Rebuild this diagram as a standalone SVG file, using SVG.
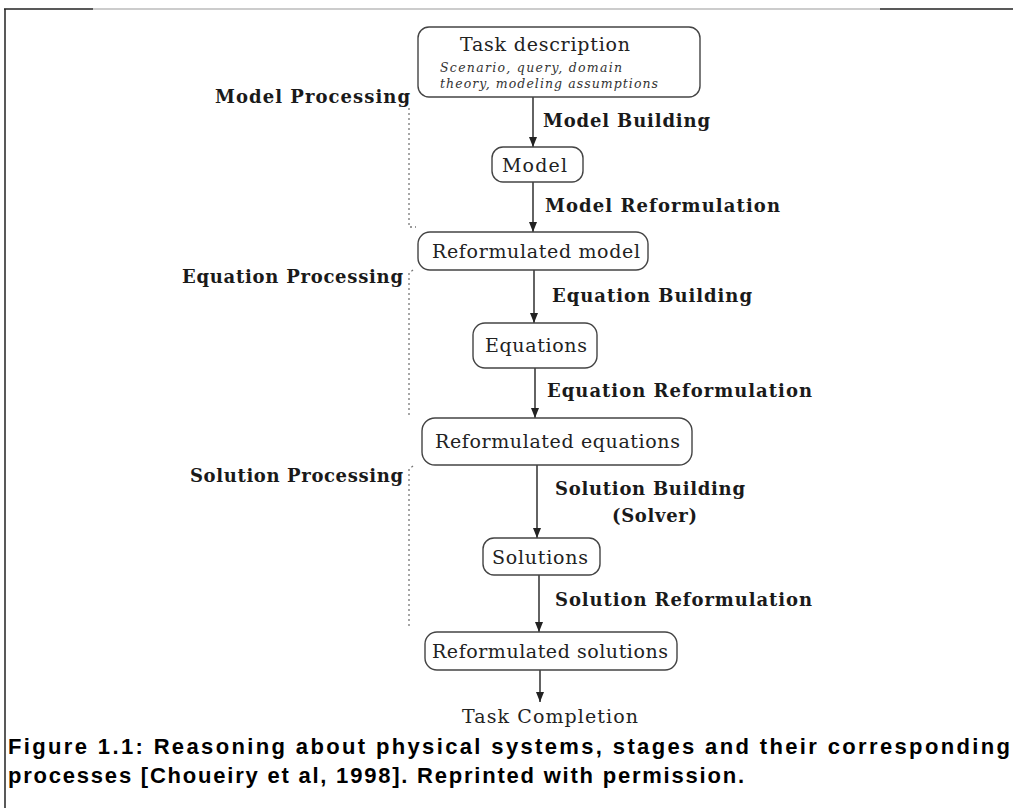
<svg xmlns="http://www.w3.org/2000/svg" width="1013" height="808" viewBox="0 0 1013 808">
<style>
.node rect{fill:#fff;stroke:#444;stroke-width:1.4}
.nt{font-family:"DejaVu Serif","Liberation Serif",serif;font-size:19px;fill:#222}
.it{font-family:"DejaVu Serif","Liberation Serif",serif;font-size:12.5px;font-style:italic;fill:#333}
.lb{font-family:"DejaVu Serif","Liberation Serif",serif;font-size:18px;font-weight:bold;fill:#1a1a1a}
.edge{stroke:#222;stroke-width:1.4;fill:none;marker-end:url(#ah)}
.dot{stroke:#777;stroke-width:1.3;fill:none;stroke-dasharray:2 3}
.cap{font-family:"Liberation Sans",Arial,sans-serif;font-size:22px;font-weight:bold;fill:#000}
</style>
<defs>
<marker id="ah" markerWidth="10" markerHeight="8" refX="10" refY="4" orient="auto" markerUnits="userSpaceOnUse" viewBox="0 0 10 8">
<path d="M0,0 L10,4 L0,8 Z" fill="#222"/>
</marker>
</defs>
<rect width="1013" height="808" fill="#fff"/>
<g id="frame">
<line x1="4" y1="9" x2="93" y2="9" stroke="#222" stroke-width="1.5"/>
<line x1="93" y1="9" x2="880" y2="9" stroke="#999" stroke-width="1"/>
<line x1="880" y1="9" x2="1013" y2="9" stroke="#222" stroke-width="1.5"/>
<line x1="5" y1="9" x2="5" y2="808" stroke="#222" stroke-width="1.5"/>
</g>
<g id="connectors">
<line class="edge" x1="533" y1="97" x2="533" y2="147"/>
<line class="edge" x1="533" y1="182" x2="533" y2="232"/>
<line class="edge" x1="534" y1="270" x2="534" y2="323"/>
<line class="edge" x1="535" y1="368" x2="535" y2="418"/>
<line class="edge" x1="537" y1="465" x2="537" y2="538"/>
<line class="edge" x1="539" y1="575" x2="539" y2="632"/>
<line class="edge" x1="540" y1="670" x2="540" y2="702"/>
</g>
<g id="brackets">
<path class="dot" d="M409,108 L409,227 L416,227"/>
<path class="dot" d="M413,270 L409,273 L409,418"/>
<path class="dot" d="M413,466 L409,469 L409,628"/>
</g>
<g id="task" class="node">
<rect x="418" y="27" width="282" height="70" rx="11"/>
<text class="nt" x="460" y="51" textLength="170">Task description</text>
<text class="it" x="440" y="72" textLength="182">Scenario, query, domain</text>
<text class="it" x="440" y="88" textLength="218">theory, modeling assumptions</text>
</g>
<g id="model" class="node">
<rect x="492" y="147" width="91" height="35" rx="11"/>
<text class="nt" x="502" y="172" textLength="65">Model</text>
</g>
<g id="refmodel" class="node">
<rect x="418" y="232" width="230" height="38" rx="12"/>
<text class="nt" x="432" y="258" textLength="208">Reformulated model</text>
</g>
<g id="equations" class="node">
<rect x="473" y="323" width="124" height="45" rx="12"/>
<text class="nt" x="485" y="352" textLength="102">Equations</text>
</g>
<g id="refeq" class="node">
<rect x="422" y="418" width="270" height="47" rx="13"/>
<text class="nt" x="435" y="448" textLength="245">Reformulated equations</text>
</g>
<g id="solutions" class="node">
<rect x="483" y="538" width="117" height="37" rx="11"/>
<text class="nt" x="492" y="564" textLength="96">Solutions</text>
</g>
<g id="refsol" class="node">
<rect x="425" y="632" width="252" height="38" rx="12"/>
<text class="nt" x="432" y="658" textLength="236">Reformulated solutions</text>
</g>
<g id="completion">
<text class="nt" x="462" y="723" textLength="176">Task Completion</text>
</g>
<g id="labels">
<text class="lb" x="543" y="127" textLength="167">Model Building</text>
<text class="lb" x="545" y="212" textLength="235">Model Reformulation</text>
<text class="lb" x="552" y="302" textLength="200">Equation Building</text>
<text class="lb" x="547" y="397" textLength="265">Equation Reformulation</text>
<text class="lb" x="555" y="495" textLength="190">Solution Building</text>
<text class="lb" x="612" y="522" textLength="85">(Solver)</text>
<text class="lb" x="555" y="606" textLength="257">Solution Reformulation</text>
<text class="lb" x="215" y="103" textLength="195">Model Processing</text>
<text class="lb" x="182" y="283" textLength="221">Equation Processing</text>
<text class="lb" x="190" y="482" textLength="213">Solution Processing</text>
</g>
<g id="caption">
<text class="cap" x="8" y="754" textLength="1002" lengthAdjust="spacing">Figure 1.1: Reasoning about physical systems, stages and their corresponding</text>
<text class="cap" x="8" y="783" textLength="736" lengthAdjust="spacing">processes [Choueiry et al, 1998]. Reprinted with permission.</text>
</g>
</svg>
